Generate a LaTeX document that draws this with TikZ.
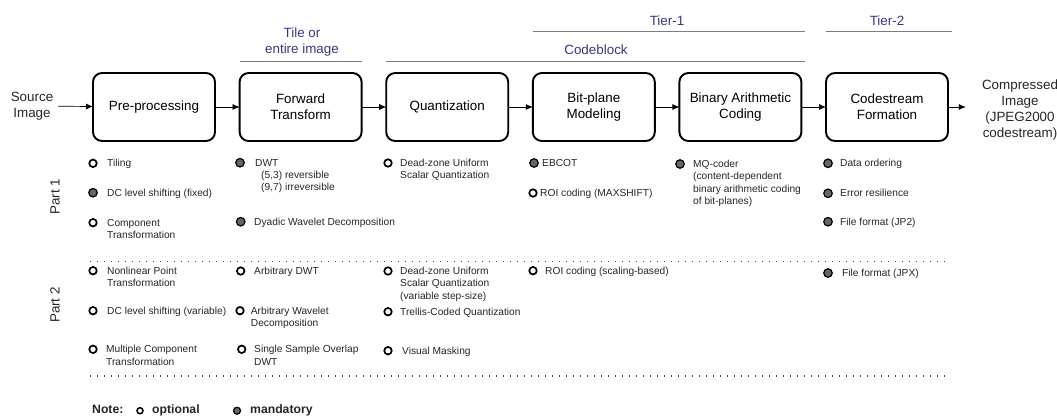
\documentclass[tikz,border=0pt]{standalone}
\usepackage{fontspec}
\setmainfont{Liberation Sans}
\usepackage{xcolor}
\usepackage{tikz}
\usetikzlibrary{arrows.meta, positioning, calc}
\definecolor{hdrblue}{RGB}{55,55,130}
\definecolor{rulegray}{RGB}{125,125,125}
\definecolor{dotgray}{RGB}{70,70,90}
\tikzstyle{stage} = [rectangle, rounded corners=9pt, minimum width=122pt, minimum height=68pt, inner sep=0pt, outer sep=0pt, align=center, draw=black, line width=1.9pt, font=\fontsize{13.4}{16}\selectfont]
\tikzstyle{arrow} = [line width=0.7pt, -{Latex[length=7pt,width=6pt]}]
\tikzstyle{item} = [anchor=base west, align=left, inner sep=0pt, text=black!85, font=\fontsize{10.2}{12.3}\selectfont]
\tikzstyle{optdot} = [circle, draw=black, fill=white, line width=1.7pt, minimum size=7.5pt, inner sep=0pt]
\tikzstyle{manddot} = [circle, draw=black, fill=black!60, line width=1.2pt, minimum size=8.5pt, inner sep=0pt]
\tikzstyle{hdr} = [align=center, inner sep=0pt, text=hdrblue, font=\fontsize{13.4}{16}\selectfont]
\tikzstyle{side} = [align=center, inner sep=0pt, text=black!85, font=\fontsize{13.4}{16}\selectfont]
\tikzstyle{legend} = [anchor=base west, inner sep=0pt, text=black!85, font=\bfseries\fontsize{12.2}{14}\selectfont]
\tikzstyle{rule} = [draw=rulegray, line width=0.9pt]
\tikzstyle{sep} = [draw=dotgray, line width=1.3pt, dash pattern=on 1.3pt off 5.7pt]

\begin{document}
\begin{tikzpicture}[x=1pt, y=-1pt, node distance=24.6pt]
    \useasboundingbox (0,0) rectangle (1057,416);

    % coding chain
    \node[stage] (pre) at (154,107) {Pre-processing};
    \node[stage, right=of pre] (fwd) {Forward\\Transform};
    \node[stage, right=of fwd] (quant) {Quantization};
    \node[stage, right=of quant] (bitpl) {Bit-plane\\Modeling};
    \node[stage, right=of bitpl] (arith) {Binary Arithmetic\\Coding};
    \node[stage, right=of arith] (cstream) {Codestream\\Formation};
    \node[side, inner xsep=5pt] (src) at (32,106) {Source\\Image};
    \node[side, inner xsep=16pt] (out) at (1020,110) {Compressed\\Image\\(JPEG2000\\codestream)};

    \draw[arrow] (src) -- (pre);
    \draw[arrow] (pre) -- (fwd);
    \draw[arrow] (fwd) -- (quant);
    \draw[arrow] (quant) -- (bitpl);
    \draw[arrow] (bitpl) -- (arith);
    \draw[arrow] (arith) -- (cstream);
    \draw[arrow] (cstream.east) -- (out.west |- cstream.east);

    % scope headers
    \node[hdr] (tile) at (302,42) {Tile or\\entire image};
    \node[hdr] (cblk) at (596,50) {Codeblock};
    \node[hdr] (tier1) at (667,20.7) {Tier-1};
    \node[hdr] (tier2) at (887,20.7) {Tier-2};
    \draw[rule] (fwd.west |- 0,61) -- (fwd.east |- 0,61);
    \draw[rule] (quant.west |- 0,61) -- ([xshift=4pt]arith.east |- 0,61);
    \draw[rule] (bitpl.west |- 0,31.7) -- ([xshift=4pt]arith.east |- 0,31.7);
    \draw[rule] (cstream.west |- 0,31.7) -- ([xshift=4pt]cstream.east |- 0,31.7);

    % part labels
    \node[side, rotate=90] (part1) at (55,196.7) {Part 1};
    \node[side, rotate=90] (part2) at (55,305) {Part 2};

    % part 1 items (base = last line)
    \node[optdot] (tilingdot) at (93,163.3) {};
    \node[item] (tiling) at (107,166.7) {Tiling};
    \node[manddot] (dcfixdot) at (93,192.7) {};
    \node[item] (dcfix) at (107,196.1) {DC level shifting (fixed)};
    \node[optdot] (comptdot) at (93,222.7) {};
    \node[item] (compt) at (107,238.4) {Component\\Transformation};
    \node[manddot] (dwtdot) at (240,162.7) {};
    \node[item] (dwt) at (255,190.7) {DWT\\\hspace{6pt}(5,3) reversible\\\hspace{6pt}(9,7) irreversible};
    \node[manddot] (dyadicdot) at (240.7,221.7) {};
    \node[item] (dyadic) at (254,225.1) {Dyadic Wavelet Decomposition};
    \node[optdot] (dzqdot) at (388,163) {};
    \node[item] (dzq) at (400,178.7) {Dead-zone Uniform\\Scalar Quantization};
    \node[manddot] (ebcotdot) at (534,163) {};
    \node[item] (ebcot) at (542,166.4) {EBCOT};
    \node[optdot] (roimaxdot) at (533,193) {};
    \node[item] (roimax) at (540,196.4) {ROI coding (MAXSHIFT)};
    \node[manddot] (mqdot) at (680,164) {};
    \node[item] (mq) at (693,204.3) {MQ-coder\\(content-dependent\\binary arithmetic coding\\of bit-planes)};
    \node[manddot] (orderdot) at (828,163.3) {};
    \node[item] (order) at (840,166.7) {Data ordering};
    \node[manddot] (resildot) at (828,193.3) {};
    \node[item] (resil) at (840,196.7) {Error resilience};
    \node[manddot] (jptwodot) at (828,221.7) {};
    \node[item] (jptwo) at (840,225.1) {File format (JP2)};

    \draw[sep] (90,261.7) -- (950,261.7);

    % part 2 items
    \node[optdot] (nlptdot) at (93,270.7) {};
    \node[item] (nlpt) at (107,286.4) {Nonlinear Point\\Transformation};
    \node[optdot] (dcvardot) at (93,310.7) {};
    \node[item] (dcvar) at (107,314.1) {DC level shifting (variable)};
    \node[optdot] (mctdot) at (93,349.3) {};
    \node[item] (mct) at (106,365) {Multiple Component\\Transformation};
    \node[optdot] (arbdwtdot) at (240.7,271) {};
    \node[item] (arbdwt) at (254,274.4) {Arbitrary DWT};
    \node[optdot] (arbwavdot) at (240,310.7) {};
    \node[item] (arbwav) at (250.7,326.4) {Arbitrary Wavelet\\Decomposition};
    \node[optdot] (ssodot) at (241.7,349.3) {};
    \node[item] (sso) at (254,365) {Single Sample Overlap\\DWT};
    \node[optdot] (dzqvardot) at (388,271) {};
    \node[item] (dzqvar) at (400,299) {Dead-zone Uniform\\Scalar Quantization\\(variable step-size)};
    \node[optdot] (tcqdot) at (388,311.7) {};
    \node[item] (tcq) at (400,315.1) {Trellis-Coded Quantization};
    \node[optdot] (maskdot) at (388,350.7) {};
    \node[item] (mask) at (402,354.1) {Visual Masking};
    \node[optdot] (roiscdot) at (533,270.7) {};
    \node[item] (roisc) at (545,274.1) {ROI coding (scaling-based)};
    \node[manddot] (jpxdot) at (828,273) {};
    \node[item] (jpx) at (842,276.4) {File format (JPX)};

    \draw[sep] (90,376) -- (950,376);

    % legend
    \node[legend] (note) at (92,413.2) {Note:};
    \node[optdot, minimum size=6pt, line width=1.5pt] (optkey) at (140,410.7) {};
    \node[legend] (optlbl) at (152,413.2) {optional};
    \node[manddot, minimum size=7pt] (mandkey) at (237,410.7) {};
    \node[legend] (mandlbl) at (250,413.2) {mandatory};
\end{tikzpicture}
\end{document}
